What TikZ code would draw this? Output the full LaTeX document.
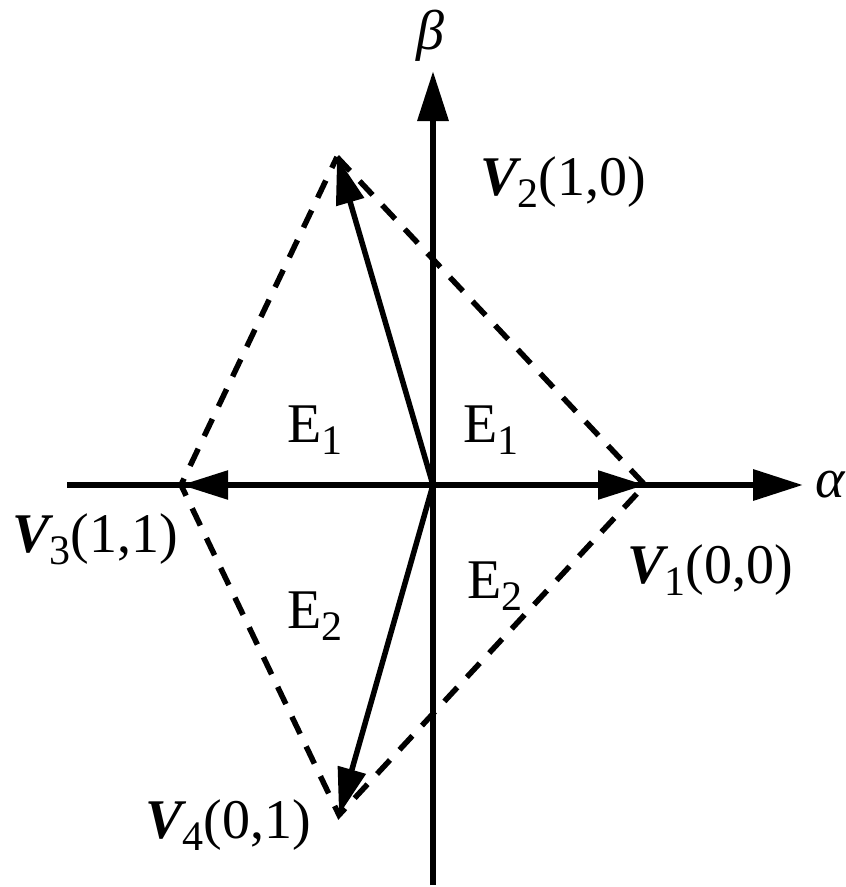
\documentclass[tikz,border=0pt]{standalone}
\usepackage{fontspec}
\setmainfont{Liberation Serif}
\usetikzlibrary{arrows.meta}
\newcommand\sbs[1]{\raisebox{-12pt}{\fontsize{42}{42}\selectfont #1}}
\newcommand\bV{{\bfseries\itshape V}}
\begin{document}
\begin{tikzpicture}[x=1pt,y=-1pt,
  axis/.style={line width=6.5pt,-{Triangle[length=50pt,width=30pt]}},
  vec/.style={line width=5.5pt,-{Triangle[length=47pt,width=28pt]}},
  dsh/.style={line width=5.5pt,dash pattern=on 19pt off 14pt},
  lbl/.style={inner sep=0pt,anchor=base west,font=\fontsize{56}{60}\selectfont}]
\useasboundingbox (0,0) rectangle (846,887);
\coordinate (O) at (433,485);
\coordinate (V1) at (645,485);
\coordinate (V2) at (337,157);
\coordinate (V3) at (181,485);
\coordinate (V4) at (339,815);
\coordinate (AL) at (67,485);
\coordinate (AR) at (803,485);
\coordinate (BB) at (433,885);
\coordinate (BT) at (433,71);
% dashed sides
\draw[dsh] (V2) -- (V1) -- (V4) -- (V3) -- cycle;
% axes
\draw[axis] (AL) -- (AR);
\draw[axis] (BB) -- (BT);
% vectors
\draw[vec] (O) -- (V1);
\draw[vec] (O) -- (V2);
\draw[vec] (O) -- (V3);
\draw[vec] (O) -- (V4);
% labels
\node[lbl,anchor=base] (beta) at (430,49) {\itshape β};
\node[lbl] (alpha) at (815,497) {\itshape α};
\node[lbl] (l2) at (480,195) {\bV\sbs{2}(1,0)};
\node[lbl] (l3) at (12,552) {\bV\sbs{3}(1,1)};
\node[lbl] (l1) at (627,583) {\bV\sbs{1}(0,0)};
\node[lbl] (l4) at (145,838) {\bV\sbs{4}(0,1)};
\node[lbl] (e1a) at (287,442) {E\sbs{1}};
\node[lbl] (e1b) at (463,442) {E\sbs{1}};
\node[lbl] (e2a) at (287,628) {E\sbs{2}};
\node[lbl] (e2b) at (467,598) {E\sbs{2}};
\end{tikzpicture}
\end{document}
